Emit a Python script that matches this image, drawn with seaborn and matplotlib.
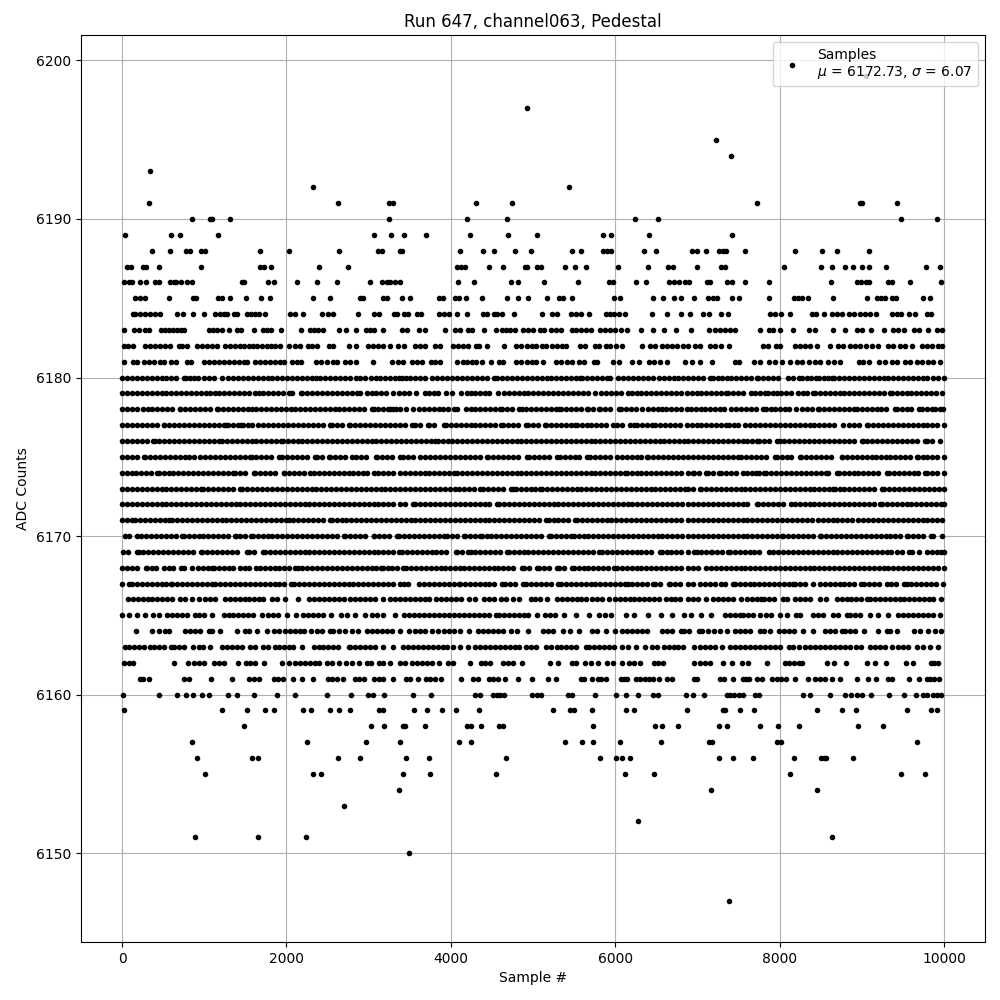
# -*- coding: utf-8 -*-
"""Pedestal samples of one ADC channel, values read off the picture row by row"""

import pandas as pd
import matplotlib
matplotlib.use('Agg')
import matplotlib.pyplot as plt
import seaborn as sns

TITLE = 'Run 647, channel063, Pedestal'
LABEL = 'Samples\n$\\mu$ = 6172.73, $\\sigma$ = 6.07'

# ── sample numbers for each ADC level ─────────────────────────────────────────
x_6199 = [9050]
x_6197 = [4930]
x_6195 = [7227]
x_6194 = [7409]
x_6193 = [336]
x_6192 = [2329, 5441]
x_6191 = [324, 2632, 3252, 3293, 4309, 4747, 7725, 8977, 9009, 9426]
x_6190 = [846, 1065, 1098, 1308, 3252, 4200, 4686, 6243, 6522, 9475, 9912]
x_6189 = [32, 591, 700, 1162, 3070, 3276, 3434, 3702, 4236, 4698, 5050, 5854, 5951, 6413, 7422]
x_6188 = [360, 579, 774, 822, 956, 1004, 1673, 2037, 2645, 3118, 3159, 3378, 3406, 4115, 4394, 4528, 4783, 4977,
          5478, 5587, 5854, 5903, 5951, 6356, 6498, 6935, 6996, 7106, 7260, 7308, 7353, 7580, 8187, 8515, 8697, 9086]
x_6187 = [57, 109, 255, 296, 445, 956, 1673, 1721, 1806, 2390, 2754, 4078, 4127, 4175, 4467, 4637, 4900, 4930, 5050, 5095,
          5393, 5514, 5648, 6036, 6401, 6644, 6705, 6996, 7284, 7341, 8053, 8503, 8637, 8799, 8892, 9009, 9086, 9293, 9779, 9949]
x_6186 = [28, 81, 125, 219, 288, 405, 454, 579, 628, 660, 721, 786, 850, 1454, 1486, 1770, 1843, 2134, 2377, 2620, 3021,
          3167, 3220, 3260, 3321, 3378, 4087, 4285, 4734, 4820, 5135, 5550, 5923, 5972, 6255, 6377, 6660, 6713, 6774,
          6855, 6895, 7118, 7150, 7361, 7422, 7580, 7871, 8624, 8940, 8993, 9050, 9094, 9325, 9374, 9584, 9961]
x_6185 = [162, 223, 283, 575, 859, 895, 1162, 1215, 1308, 1503, 1685, 1794, 2317, 2535, 2900, 2936, 3179, 3220, 3410, 3507,
          3860, 3908, 4054, 4103, 4180, 4382, 4686, 4820, 4941, 5172, 5316, 5364, 5478, 5988, 6053, 6462, 6583, 6713, 6806,
          6960, 7130, 7187, 7239, 7422, 7511, 7871, 8171, 8223, 8272, 8345, 8649, 9062, 9183, 9236, 9285, 9366, 9414, 9750, 9831]
x_6184 = [130, 162, 223, 283, 344, 405, 466, 664, 737, 867, 992, 1134, 1187, 1235, 1276, 1357, 1397, 1519, 1567, 1620, 1661, 1733,
          2045, 2106, 2207, 2430, 2511, 2564, 2867, 3066, 3123, 3309, 3349, 3430, 3479, 3584, 3633, 3860, 3916, 3973, 4074, 4192,
          4394, 4443, 4524, 4564, 4625, 4771, 5111, 5226, 5295, 5457, 5518, 5579, 5680, 5883, 5931, 5984, 6045, 6125, 6450, 6632,
          6806, 6915, 7065, 7138, 7292, 7373, 7879, 7948, 8017, 8130, 8394, 8442, 8539, 8637, 8697, 8758, 8847, 8912, 8981, 9042,
          9102, 9171, 9366, 9426, 9479, 9576, 9649, 9791, 9843]
x_6183 = [20, 150, 211, 275, 324, 478, 526, 575, 624, 672, 721, 757, 1057, 1106, 1154, 1215, 1296, 1397, 1446, 1600, 1713, 1762,
          1814, 1932, 2183, 2288, 2337, 2385, 2450, 2645, 2730, 2851, 2973, 3017, 3066, 3179, 3406, 3463, 3617, 3681, 3932, 4054,
          4111, 4204, 4253, 4406, 4552, 4617, 4670, 4726, 4779, 4880, 4941, 5002, 5083, 5131, 5214, 5275, 5336, 5470, 5526, 5579,
          5640, 5700, 5810, 5874, 5931, 5996, 6065, 6146, 6316, 6458, 6595, 6741, 6923, 7146, 7211, 7280, 7341, 7401, 7462, 7762,
          7867, 7916, 8005, 8163, 8353, 8434, 8649, 8799, 8940, 9001, 9114, 9268, 9386, 9446, 9511, 9633, 9702, 9811, 9912, 9973]
x_6182 = [28, 69, 130, 275, 344, 405, 466, 526, 579, 688, 729, 790, 911, 972, 1033, 1093, 1154, 1256, 1316, 1377, 1438, 1478,
          1539, 1592, 1640, 1701, 1762, 1810, 1863, 1916, 2037, 2098, 2167, 2268, 2313, 2377, 2523, 2572, 2766, 2847, 2997, 3058,
          3118, 3179, 3260, 3353, 3426, 3564, 3625, 3686, 3807, 3868, 4022, 4090, 4151, 4204, 4301, 4342, 4443, 4645, 4799, 4860,
          4921, 4982, 5042, 5115, 5164, 5235, 5295, 5356, 5397, 5567, 5631, 5753, 5802, 5883, 5943, 6004, 6085, 6328, 6429, 6490,
          6571, 6632, 6693, 6753, 6826, 6887, 6976, 7037, 7158, 7219, 7292, 7389, 7794, 7859, 7956, 8009, 8191, 8252, 8313, 8373,
          8454, 8616, 8717, 8778, 8859, 8920, 8981, 9050, 9123, 9195, 9325, 9386, 9466, 9527, 9608, 9730, 9791, 9860, 9932, 9981]
x_6181 = [20, 130, 182, 263, 324, 385, 458, 514, 595, 660, 790, 838, 1000, 1053, 1114, 1175, 1235, 1296, 1357, 1418, 1478, 1519,
          1620, 1681, 1742, 1802, 1863, 1924, 1976, 2065, 2126, 2179, 2361, 2418, 2491, 2572, 2620, 2713, 2774, 2847, 3058, 3280,
          3361, 3422, 3523, 3584, 3645, 3754, 3807, 3868, 4070, 4143, 4192, 4253, 4305, 4382, 4495, 4584, 4633, 4799, 4860, 4921,
          4982, 5042, 5123, 5275, 5336, 5417, 5478, 5559, 5620, 5741, 5782, 5972, 6045, 6207, 6288, 6409, 6470, 6551, 6632, 6855,
          6935, 7037, 7179, 7454, 7511, 7685, 7766, 7867, 7948, 8029, 8130, 8211, 8272, 8353, 8434, 8495, 8588, 8657, 8738, 8961,
          9021, 9090, 9212, 9285, 9366, 9426, 9527, 9588, 9669, 9730, 9811, 9872, 9953]
x_6180 = [0, 60, 120, 180, 240, 300, 360, 420, 480, 540, 600, 660, 750, 780, 825, 870, 920, 1000, 1060, 1120, 1215, 1290, 1350, 1410,
          1470, 1530, 1590, 1650, 1710, 1770, 1830, 1890, 1950, 2010, 2070, 2130, 2190, 2250, 2310, 2360, 2410, 2470, 2530, 2590,
          2650, 2710, 2770, 2850, 2900, 2960, 3030, 3090, 3140, 3200, 3260, 3320, 3370, 3410, 3460, 3500, 3560, 3620, 3690, 3770,
          3830, 3890, 3950, 4010, 4080, 4140, 4200, 4260, 4320, 4380, 4445, 4520, 4565, 4625, 4685, 4745, 4805, 4865, 4925, 4985,
          5045, 5105, 5165, 5225, 5285, 5345, 5405, 5465, 5525, 5575, 5600, 5660, 5720, 5780, 5840, 5900, 5940, 6040, 6100, 6160,
          6220, 6280, 6340, 6400, 6465, 6530, 6590, 6650, 6710, 6770, 6830, 6890, 6950, 7010, 7070, 7150, 7190, 7250, 7295, 7355,
          7415, 7475, 7535, 7595, 7655, 7720, 7740, 7800, 7860, 7920, 7985, 8105, 8165, 8235, 8270, 8330, 8380, 8440, 8475, 8535,
          8595, 8635, 8665, 8725, 8785, 8845, 8905, 8965, 9025, 9085, 9145, 9205, 9265, 9325, 9385, 9445, 9505, 9565, 9625, 9685,
          9745, 9790, 9870, 9930, 10000]
x_6179 = [0, 60, 120, 180, 240, 300, 360, 420, 480, 540, 600, 660, 720, 780, 840, 900, 960, 1025, 1065, 1125, 1185, 1245, 1305, 1365,
          1425, 1485, 1545, 1620, 1660, 1720, 1780, 1840, 1900, 1960, 2025, 2065, 2175, 2195, 2255, 2315, 2375, 2435, 2495, 2555,
          2615, 2675, 2735, 2795, 2855, 2895, 2975, 3035, 3095, 3155, 3215, 3300, 3370, 3430, 3490, 3580, 3680, 3730, 3790, 3850,
          3940, 4010, 4120, 4200, 4240, 4300, 4360, 4420, 4470, 4575, 4645, 4705, 4765, 4825, 4885, 4945, 5005, 5065, 5125, 5185,
          5245, 5305, 5365, 5425, 5485, 5545, 5605, 5665, 5755, 5830, 5890, 5950, 6010, 6070, 6160, 6200, 6260, 6320, 6380, 6440,
          6500, 6560, 6620, 6680, 6740, 6800, 6870, 6930, 6990, 7050, 7110, 7170, 7230, 7290, 7350, 7370, 7430, 7490, 7550, 7650,
          7700, 7760, 7820, 7860, 7915, 7975, 8015, 8075, 8145, 8220, 8280, 8340, 8410, 8430, 8490, 8550, 8610, 8670, 8730, 8790,
          8850, 8910, 8970, 9030, 9090, 9150, 9210, 9270, 9345, 9365, 9425, 9485, 9545, 9605, 9665, 9725, 9785, 9845, 9905, 9975]
x_6178 = [0, 60, 120, 180, 250, 310, 370, 430, 490, 550, 610, 700, 710, 770, 830, 890, 950, 1010, 1070, 1160, 1170, 1230, 1290, 1350,
          1410, 1470, 1530, 1580, 1630, 1690, 1750, 1810, 1870, 1930, 1990, 2050, 2110, 2170, 2230, 2290, 2350, 2410, 2470, 2530,
          2590, 2645, 2705, 2765, 2825, 2885, 2945, 3040, 3060, 3120, 3180, 3240, 3300, 3380, 3260, 3330, 3450, 3535, 3610, 3670,
          3730, 3790, 3860, 3900, 3970, 4040, 4080, 4180, 4240, 4300, 4360, 4420, 4480, 4540, 4595, 4625, 4685, 4745, 4830, 4870,
          4920, 4980, 5040, 5100, 5160, 5220, 5280, 5320, 5345, 5405, 5465, 5525, 5585, 5655, 5675, 5735, 5800, 5820, 5880, 5940,
          6050, 6070, 6130, 6190, 6250, 6330, 6395, 6455, 6515, 6575, 6615, 6675, 6735, 6795, 6870, 6920, 6980, 7040, 7090, 7150,
          7210, 7270, 7325, 7415, 7475, 7535, 7595, 7655, 7715, 7800, 7830, 7890, 7950, 8010, 8070, 8115, 8195, 8275, 8335, 8395,
          8465, 8480, 8540, 8600, 8660, 8720, 8780, 8840, 8900, 8940, 9000, 9060, 9120, 9180, 9240, 9300, 9400, 9425, 9485, 9545,
          9605, 9700, 9730, 9790, 9850, 9890, 9950, 9995]
x_6177 = [0, 60, 120, 180, 240, 300, 360, 420, 510, 515, 575, 635, 695, 755, 815, 875, 935, 995, 1055, 1115, 1175, 1235, 1270, 1285,
          1345, 1405, 1445, 1470, 1530, 1580, 1650, 1720, 1780, 1840, 1900, 1960, 2020, 2080, 2140, 2200, 2260, 2320, 2380, 2440,
          2525, 2550, 2610, 2670, 2755, 2775, 2835, 2895, 2955, 3015, 3075, 3135, 3195, 3255, 3315, 3380, 3440, 3530, 3560, 3620,
          3720, 3740, 3800, 3920, 3940, 4000, 4060, 4120, 4180, 4240, 4300, 4360, 4420, 4480, 4540, 4605, 4635, 4695, 4755, 4815,
          4915, 4940, 5000, 5060, 5145, 5160, 5220, 5280, 5340, 5400, 5460, 5515, 5535, 5595, 5655, 5710, 5765, 5825, 5885, 5970,
          6020, 6080, 6180, 6225, 6265, 6325, 6385, 6445, 6490, 6550, 6610, 6670, 6730, 6790, 6870, 6930, 6990, 7050, 7110, 7170,
          7230, 7290, 7350, 7390, 7450, 7500, 7585, 7645, 7705, 7765, 7825, 7885, 7945, 8005, 8065, 8125, 8185, 8245, 8305, 8365,
          8425, 8485, 8545, 8605, 8665, 8770, 8850, 8910, 8970, 9060, 9080, 9140, 9200, 9260, 9320, 9380, 9440, 9500, 9560, 9620,
          9680, 9740, 9800, 9860, 9920, 10000]
x_6176 = [0, 60, 120, 180, 240, 300, 375, 395, 455, 515, 575, 635, 695, 755, 815, 875, 935, 995, 1055, 1115, 1180, 1215, 1275, 1335,
          1395, 1455, 1515, 1575, 1635, 1695, 1755, 1815, 1875, 1930, 1955, 2015, 2075, 2135, 2195, 2255, 2315, 2375, 2435, 2495,
          2555, 2615, 2675, 2735, 2795, 2855, 2915, 2975, 3035, 3095, 3155, 3215, 3275, 3335, 3395, 3455, 3515, 3575, 3635, 3695,
          3755, 3810, 3840, 3900, 3960, 4020, 4080, 4140, 4200, 4260, 4320, 4380, 4440, 4500, 4560, 4620, 4680, 4740, 4800, 4860,
          4920, 4980, 5040, 5100, 5160, 5220, 5280, 5340, 5400, 5460, 5520, 5580, 5640, 5700, 5760, 5820, 5880, 5940, 6000, 6060,
          6120, 6180, 6240, 6300, 6360, 6420, 6480, 6540, 6600, 6660, 6720, 6780, 6840, 6890, 6950, 7010, 7070, 7130, 7190, 7250,
          7310, 7370, 7430, 7490, 7550, 7610, 7670, 7730, 7750, 7810, 7870, 7975, 8000, 8060, 8120, 8180, 8240, 8300, 8360, 8420,
          8480, 8540, 8600, 8660, 8720, 8780, 8840, 8900, 9000, 9010, 9070, 9130, 9190, 9250, 9310, 9370, 9430, 9490, 9550, 9610,
          9670, 9770, 9800, 9860, 9950]
x_6175 = [0, 60, 120, 180, 270, 280, 340, 400, 460, 520, 580, 640, 700, 760, 820, 880, 950, 1010, 1070, 1130, 1190, 1250, 1310, 1370,
          1430, 1490, 1560, 1575, 1635, 1695, 1755, 1815, 1905, 1950, 2010, 2070, 2130, 2190, 2250, 2350, 2370, 2430, 2520, 2530,
          2590, 2650, 2710, 2800, 2845, 2905, 2965, 3090, 3105, 3165, 3225, 3285, 3380, 3415, 3475, 3545, 3630, 3690, 3750, 3810,
          3870, 3930, 3990, 4050, 4110, 4170, 4230, 4290, 4350, 4445, 4455, 4515, 4575, 4635, 4695, 4755, 4815, 4930, 4950, 5010,
          5070, 5130, 5190, 5290, 5325, 5385, 5445, 5505, 5565, 5655, 5690, 5750, 5810, 5880, 5940, 6020, 6080, 6140, 6200, 6260,
          6320, 6385, 6405, 6465, 6525, 6585, 6645, 6705, 6765, 6825, 6890, 6950, 7010, 7070, 7130, 7190, 7250, 7310, 7370, 7430,
          7495, 7530, 7590, 7650, 7710, 7770, 7830, 7945, 7965, 8025, 8085, 8145, 8245, 8265, 8325, 8385, 8445, 8505, 8565, 8625,
          8755, 8765, 8825, 8885, 8945, 9005, 9065, 9130, 9170, 9230, 9290, 9350, 9410, 9470, 9530, 9590, 9670, 9680, 9740, 9800,
          9860, 9920, 10000]
x_6174 = [0, 55, 115, 175, 235, 295, 355, 425, 445, 505, 565, 625, 685, 745, 805, 865, 925, 985, 1045, 1105, 1165, 1225, 1285, 1350,
          1375, 1435, 1495, 1600, 1620, 1680, 1740, 1800, 1860, 1965, 1975, 2035, 2095, 2155, 2215, 2290, 2335, 2395, 2455, 2515,
          2575, 2635, 2695, 2755, 2815, 2875, 2930, 2975, 3060, 3120, 3180, 3240, 3300, 3380, 3440, 3500, 3560, 3620, 3680, 3740,
          3800, 3860, 3920, 3980, 4040, 4080, 4140, 4200, 4260, 4320, 4380, 4440, 4500, 4560, 4620, 4680, 4740, 4800, 4860, 4920,
          4980, 5040, 5100, 5160, 5220, 5280, 5340, 5400, 5460, 5520, 5580, 5640, 5700, 5760, 5820, 5880, 5940, 6000, 6060, 6120,
          6140, 6200, 6260, 6320, 6380, 6440, 6500, 6560, 6620, 6680, 6740, 6800, 6890, 6950, 6960, 7020, 7110, 7130, 7190, 7260,
          7285, 7345, 7405, 7465, 7560, 7600, 7660, 7710, 7750, 7815, 7840, 7900, 7960, 8020, 8080, 8140, 8200, 8260, 8320, 8380,
          8440, 8500, 8570, 8590, 8695, 8720, 8780, 8840, 8900, 8960, 9020, 9080, 9140, 9200, 9310, 9330, 9390, 9450, 9510, 9570,
          9630, 9690, 9770, 9790, 9850, 9910, 10000]
x_6173 = [0, 60, 120, 180, 240, 300, 360, 420, 480, 540, 600, 660, 720, 780, 840, 900, 965, 985, 1045, 1105, 1165, 1225, 1285, 1345,
          1440, 1465, 1525, 1585, 1645, 1705, 1765, 1825, 1885, 1945, 2005, 2065, 2125, 2185, 2245, 2305, 2365, 2425, 2485, 2545,
          2605, 2665, 2725, 2785, 2845, 2905, 2965, 3025, 3085, 3145, 3205, 3265, 3325, 3385, 3445, 3505, 3565, 3625, 3685, 3745,
          3805, 3865, 3925, 3985, 4045, 4105, 4165, 4225, 4285, 4350, 4395, 4455, 4515, 4575, 4635, 4730, 4760, 4790, 4850, 4910,
          4970, 5030, 5090, 5110, 5170, 5230, 5290, 5350, 5410, 5470, 5530, 5590, 5650, 5710, 5770, 5830, 5890, 5950, 6010, 6070,
          6130, 6190, 6250, 6310, 6370, 6430, 6490, 6550, 6610, 6670, 6730, 6790, 6850, 6890, 6950, 7030, 7045, 7105, 7165, 7225,
          7285, 7345, 7405, 7465, 7525, 7585, 7645, 7705, 7765, 7825, 7885, 7945, 8005, 8065, 8125, 8185, 8245, 8305, 8365, 8425,
          8485, 8545, 8605, 8655, 8670, 8730, 8790, 8850, 8910, 8970, 9030, 9090, 9150, 9245, 9275, 9335, 9395, 9455, 9515, 9575,
          9635, 9695, 9755, 9815, 9875, 9935, 10000]
x_6172 = [0, 60, 120, 180, 240, 300, 360, 420, 480, 540, 600, 660, 720, 780, 840, 900, 960, 1020, 1080, 1140, 1200, 1260, 1320, 1380,
          1440, 1500, 1560, 1620, 1680, 1740, 1800, 1860, 1920, 1980, 2040, 2100, 2160, 2220, 2280, 2340, 2400, 2460, 2520, 2580,
          2640, 2700, 2760, 2820, 2880, 2940, 3000, 3060, 3120, 3180, 3240, 3300, 3380, 3440, 3545, 3570, 3630, 3690, 3750, 3810,
          3870, 3930, 3990, 4050, 4110, 4170, 4230, 4290, 4350, 4410, 4470, 4565, 4590, 4650, 4710, 4770, 4830, 4890, 4950, 5010,
          5070, 5130, 5190, 5250, 5310, 5370, 5430, 5490, 5550, 5610, 5670, 5730, 5790, 5850, 5910, 5970, 6030, 6090, 6150, 6210,
          6270, 6330, 6390, 6450, 6510, 6570, 6630, 6690, 6750, 6810, 6890, 6950, 7010, 7070, 7130, 7190, 7250, 7310, 7370, 7430,
          7490, 7550, 7610, 7720, 7740, 7800, 7860, 7920, 7980, 8040, 8145, 8185, 8245, 8305, 8365, 8425, 8485, 8545, 8605, 8665,
          8725, 8785, 8845, 8905, 8965, 9025, 9085, 9145, 9220, 9245, 9305, 9365, 9425, 9485, 9545, 9605, 9665, 9725, 9785, 9845,
          9905, 9965, 10000]
x_6171 = [0, 60, 120, 160, 220, 280, 340, 400, 460, 525, 565, 610, 670, 730, 790, 850, 910, 970, 1030, 1090, 1150, 1210, 1270, 1330,
          1390, 1450, 1510, 1570, 1630, 1690, 1750, 1810, 1870, 1930, 2000, 2025, 2085, 2145, 2205, 2265, 2325, 2385, 2445, 2530,
          2550, 2610, 2670, 2730, 2790, 2850, 2910, 2970, 3030, 3090, 3150, 3210, 3270, 3330, 3390, 3450, 3510, 3570, 3630, 3690,
          3750, 3810, 3870, 3930, 3990, 4050, 4110, 4170, 4230, 4290, 4350, 4410, 4470, 4530, 4590, 4650, 4710, 4770, 4830, 4890,
          4950, 5010, 5070, 5160, 5190, 5250, 5310, 5370, 5430, 5505, 5535, 5595, 5655, 5715, 5775, 5835, 5895, 5955, 6015, 6075,
          6135, 6195, 6255, 6315, 6375, 6435, 6495, 6555, 6615, 6675, 6735, 6795, 6890, 6950, 7010, 7070, 7130, 7190, 7250, 7310,
          7370, 7430, 7490, 7550, 7610, 7670, 7730, 7790, 7850, 7910, 7970, 8030, 8090, 8150, 8210, 8270, 8330, 8390, 8465, 8525,
          8585, 8645, 8705, 8765, 8825, 8885, 8960, 9020, 9080, 9140, 9200, 9260, 9320, 9380, 9440, 9500, 9560, 9620, 9680, 9740,
          9800, 9860, 9920, 9975]
x_6170 = [30, 90, 180, 230, 290, 350, 410, 470, 530, 590, 650, 730, 750, 810, 870, 930, 990, 1050, 1110, 1170, 1230, 1290, 1370, 1380,
          1440, 1500, 1565, 1590, 1650, 1710, 1770, 1830, 1890, 1950, 2010, 2070, 2130, 2190, 2250, 2310, 2370, 2430, 2490, 2550,
          2610, 2695, 2715, 2775, 2835, 2895, 2955, 3060, 3065, 3125, 3185, 3245, 3340, 3375, 3435, 3495, 3555, 3615, 3675, 3735,
          3795, 3855, 3920, 3950, 4010, 4070, 4160, 4175, 4235, 4295, 4350, 4375, 4435, 4495, 4555, 4615, 4675, 4735, 4795, 4855,
          4915, 4975, 5035, 5095, 5190, 5225, 5285, 5345, 5405, 5465, 5495, 5555, 5615, 5675, 5735, 5795, 5855, 5915, 5975, 6035,
          6095, 6155, 6215, 6275, 6335, 6395, 6455, 6515, 6575, 6635, 6695, 6755, 6815, 6890, 6950, 7010, 7070, 7130, 7190, 7250,
          7310, 7370, 7430, 7490, 7550, 7610, 7670, 7730, 7790, 7850, 7910, 7970, 8025, 8045, 8105, 8165, 8225, 8285, 8345, 8405,
          8490, 8510, 8570, 8630, 8690, 8750, 8810, 8870, 8930, 8990, 9050, 9110, 9170, 9230, 9290, 9350, 9410, 9470, 9545, 9565,
          9625, 9685, 9745, 9840, 9870, 9980]
x_6169 = [15, 75, 180, 200, 260, 320, 380, 440, 500, 560, 620, 680, 740, 800, 860, 960, 975, 1035, 1095, 1155, 1215, 1275, 1335, 1395,
          1520, 1540, 1600, 1720, 1740, 1800, 1860, 1920, 1980, 2040, 2100, 2160, 2220, 2280, 2340, 2400, 2460, 2520, 2580, 2640,
          2700, 2760, 2820, 2880, 2940, 3000, 3060, 3120, 3180, 3240, 3300, 3375, 3405, 3465, 3525, 3585, 3645, 3705, 3765, 3825,
          3885, 3945, 4060, 4080, 4140, 4215, 4240, 4300, 4360, 4420, 4480, 4540, 4600, 4680, 4705, 4765, 4825, 4885, 4945, 5005,
          5065, 5125, 5185, 5245, 5305, 5365, 5425, 5485, 5545, 5605, 5665, 5725, 5800, 5840, 5900, 5960, 6020, 6080, 6140, 6200,
          6260, 6320, 6380, 6440, 6545, 6565, 6625, 6685, 6745, 6805, 6890, 6960, 6990, 7050, 7110, 7165, 7180, 7240, 7300, 7375,
          7395, 7455, 7515, 7575, 7635, 7695, 7755, 7870, 7925, 7985, 8045, 8105, 8165, 8225, 8285, 8345, 8405, 8465, 8525, 8585,
          8645, 8705, 8765, 8825, 8885, 8945, 9005, 9065, 9125, 9185, 9245, 9305, 9355, 9435, 9495, 9575, 9615, 9700, 9790, 9850,
          9910, 9970, 10000]
x_6168 = [0, 60, 120, 180, 285, 305, 360, 415, 505, 565, 625, 720, 755, 855, 920, 980, 1040, 1095, 1115, 1175, 1235, 1295, 1350, 1430,
          1490, 1550, 1630, 1675, 1735, 1795, 1855, 1915, 1975, 2035, 2105, 2135, 2195, 2255, 2315, 2375, 2435, 2495, 2555, 2615,
          2675, 2735, 2795, 2855, 2915, 2975, 3035, 3095, 3145, 3170, 3230, 3290, 3350, 3415, 3455, 3515, 3575, 3635, 3695, 3755,
          3815, 3875, 3935, 3995, 4055, 4110, 4160, 4220, 4280, 4340, 4400, 4460, 4520, 4580, 4640, 4700, 4760, 4870, 4890, 4950,
          5050, 5070, 5130, 5190, 5295, 5315, 5375, 5475, 5495, 5555, 5615, 5675, 5735, 5795, 5855, 5915, 5990, 6020, 6080, 6140,
          6200, 6260, 6320, 6380, 6440, 6500, 6560, 6620, 6680, 6740, 6800, 6890, 6950, 7010, 7110, 7165, 7225, 7285, 7345, 7405,
          7465, 7525, 7585, 7645, 7705, 7765, 7825, 7885, 7945, 8005, 8065, 8125, 8185, 8245, 8305, 8365, 8425, 8485, 8545, 8605,
          8665, 8725, 8785, 8845, 8905, 8965, 9025, 9085, 9145, 9205, 9265, 9325, 9385, 9445, 9505, 9565, 9625, 9685, 9745, 9805,
          9865, 9925, 10000]
x_6167 = [0, 80, 120, 180, 240, 300, 360, 420, 480, 540, 595, 610, 670, 730, 790, 850, 910, 970, 1030, 1095, 1135, 1195, 1255, 1315,
          1375, 1435, 1495, 1555, 1615, 1675, 1735, 1795, 1855, 1915, 1975, 2060, 2095, 2155, 2215, 2275, 2335, 2395, 2455, 2515,
          2575, 2635, 2695, 2755, 2815, 2875, 2935, 2995, 3055, 3115, 3175, 3235, 3295, 3380, 3425, 3485, 3615, 3675, 3735, 3795,
          3855, 3915, 3975, 4035, 4100, 4110, 4170, 4230, 4290, 4350, 4410, 4470, 4530, 4625, 4665, 4725, 4785, 4875, 4915, 4975,
          5035, 5095, 5155, 5215, 5310, 5340, 5400, 5460, 5520, 5580, 5640, 5700, 5760, 5820, 5880, 5940, 6000, 6060, 6120, 6150,
          6210, 6270, 6330, 6390, 6465, 6485, 6545, 6650, 6670, 6730, 6790, 6890, 6950, 7030, 7090, 7150, 7220, 7285, 7335, 7435,
          7455, 7515, 7575, 7635, 7695, 7755, 7815, 7875, 7935, 7995, 8055, 8115, 8165, 8185, 8245, 8305, 8410, 8490, 8550, 8610,
          8670, 8730, 8790, 8850, 8910, 8990, 9030, 9090, 9150, 9210, 9305, 9355, 9415, 9520, 9545, 9605, 9665, 9725, 9785, 9845,
          9905, 9995]
x_6166 = [70, 130, 190, 250, 310, 370, 430, 490, 550, 605, 710, 770, 850, 930, 1010, 1070, 1135, 1255, 1315, 1375, 1435, 1500, 1540,
          1600, 1660, 1720, 1820, 1885, 1985, 2135, 2280, 2340, 2400, 2460, 2520, 2580, 2640, 2700, 2775, 2835, 2895, 2955, 3015,
          3075, 3170, 3260, 3320, 3380, 3440, 3500, 3560, 3620, 3680, 3740, 3820, 3880, 3940, 4000, 4060, 4120, 4220, 4300, 4405,
          4465, 4525, 4605, 4675, 4755, 4830, 4970, 5030, 5090, 5170, 5290, 5350, 5410, 5470, 5530, 5590, 5650, 5715, 5780, 5840,
          5925, 5995, 6055, 6115, 6175, 6235, 6295, 6355, 6415, 6475, 6535, 6620, 6680, 6730, 6790, 6890, 6950, 7010, 7100, 7195,
          7255, 7315, 7375, 7435, 7535, 7600, 7660, 7720, 7780, 7815, 7875, 7935, 8045, 8085, 8190, 8250, 8310, 8370, 8490, 8570,
          8695, 8755, 8815, 8875, 8935, 8995, 9060, 9100, 9160, 9220, 9280, 9340, 9400, 9460, 9520, 9580, 9640, 9700, 9760, 9815,
          9870, 9965]
x_6165 = [0, 80, 180, 275, 375, 455, 545, 605, 665, 725, 785, 890, 940, 1000, 1095, 1235, 1295, 1355, 1415, 1475, 1535, 1595, 1700,
          1780, 1840, 1900, 2005, 2115, 2205, 2265, 2325, 2385, 2450, 2545, 2660, 2740, 2835, 2955, 3040, 3100, 3180, 3320, 3435,
          3495, 3555, 3615, 3675, 3735, 3795, 3855, 3920, 3980, 4040, 4100, 4160, 4220, 4280, 4340, 4400, 4460, 4545, 4585, 4645,
          4705, 4765, 4825, 4885, 4940, 5050, 5150, 5210, 5270, 5375, 5525, 5680, 5800, 5880, 5950, 6130, 6235, 6395, 6555, 6695,
          6840, 6920, 7045, 7170, 7335, 7395, 7455, 7520, 7560, 7620, 7680, 7760, 7840, 7900, 8005, 8095, 8195, 8250, 8410, 8470,
          8530, 8655, 8715, 8815, 8855, 8915, 8975, 9100, 9200, 9325, 9445, 9505, 9565, 9625, 9685, 9745, 9805, 9865, 9950]
x_6164 = [175, 365, 445, 525, 565, 770, 830, 890, 950, 1055, 1095, 1195, 1395, 1500, 1540, 1640, 1760, 1845, 1905, 1985, 2045, 2105,
          2165, 2215, 2295, 2370, 2430, 2530, 2570, 2640, 2715, 2795, 2875, 2975, 3035, 3100, 3160, 3220, 3280, 3380, 3495, 3565,
          3625, 3685, 3765, 3840, 3920, 3980, 4040, 4110, 4225, 4335, 4395, 4455, 4515, 4575, 4635, 4735, 4800, 4940, 5120, 5180,
          5240, 5360, 5455, 5565, 5720, 5780, 5885, 6000, 6085, 6145, 6205, 6265, 6325, 6390, 6570, 6630, 6690, 6795, 6835, 6895,
          7015, 7055, 7135, 7200, 7280, 7360, 7460, 7520, 7580, 7640, 7765, 7805, 7885, 7995, 8055, 8115, 8175, 8290, 8405, 8555,
          8615, 8675, 8760, 8800, 8860, 8920, 9025, 9200, 9305, 9345, 9425, 9630, 9710, 9810, 9890, 9965]
x_6163 = [30, 90, 150, 210, 270, 345, 385, 445, 505, 595, 635, 695, 755, 860, 930, 990, 1075, 1215, 1275, 1335, 1395, 1455, 1560, 1620,
          1720, 1780, 1860, 1905, 1965, 2025, 2085, 2185, 2330, 2390, 2450, 2510, 2570, 2630, 2755, 2775, 2835, 2895, 2955, 3015,
          3075, 3180, 3300, 3420, 3480, 3540, 3600, 3660, 3720, 3780, 3840, 3910, 3950, 4030, 4110, 4210, 4295, 4355, 4415, 4475,
          4535, 4595, 4655, 4715, 4775, 4835, 4920, 4980, 5040, 5155, 5215, 5295, 5345, 5405, 5465, 5525, 5640, 5680, 5740, 5800,
          5860, 5920, 5980, 6085, 6155, 6255, 6360, 6450, 6510, 6590, 6650, 6710, 6770, 6830, 6955, 7035, 7095, 7155, 7215, 7300,
          7400, 7460, 7520, 7580, 7640, 7700, 7760, 7820, 7880, 7940, 8000, 8110, 8160, 8240, 8315, 8375, 8435, 8495, 8555, 8615,
          8675, 8735, 8795, 8855, 8925, 8995, 9105, 9165, 9225, 9285, 9365, 9445, 9505, 9565, 9670, 9750, 9830, 9925]
x_6162 = [20, 81, 134, 628, 798, 871, 932, 992, 1114, 1175, 1235, 1413, 1507, 1559, 1620, 1721, 1944, 2037, 2106, 2167, 2228, 2288,
          2349, 2402, 2491, 2552, 2645, 2726, 2795, 2888, 2977, 3025, 3131, 3179, 3264, 3382, 3442, 3523, 3584, 3645, 3714, 3775,
          3860, 3969, 4030, 4236, 4366, 4414, 4475, 4637, 4698, 4759, 4872, 5210, 5307, 5478, 5526, 5631, 5700, 5793, 5903, 5972,
          6077, 6174, 6235, 6308, 6470, 6522, 6579, 6956, 7037, 7098, 7158, 7312, 7422, 7543, 7616, 7847, 8061, 8110, 8170, 8231,
          8272, 8580, 8657, 8807, 9062, 9159, 9293, 9544, 9625, 9839, 9884, 9924]
x_6161 = [215, 255, 328, 749, 814, 1077, 1332, 1547, 1600, 1660, 1851, 1895, 1952, 2074, 2195, 2317, 2511, 2560, 2620, 2685, 2835,
          2888, 2944, 3066, 3123, 3179, 3292, 3454, 3503, 3604, 3697, 3746, 3807, 3876, 4127, 4273, 4333, 4459, 4508, 4577, 4662,
          4820, 4990, 5182, 5275, 5579, 5620, 5721, 5790, 5830, 5883, 6065, 6105, 6146, 6255, 6308, 6360, 6409, 6462, 6539, 6632,
          6693, 6956, 6996, 7280, 7328, 7438, 7551, 7592, 7632, 7725, 7786, 7908, 7968, 8021, 8078, 8187, 8345, 8434, 8487, 8556,
          8637, 8734, 8940, 9074, 9171, 9325, 9366, 9572, 9694, 9791, 9831, 9880, 9937]
x_6160 = [8, 445, 664, 774, 859, 968, 1053, 1284, 1393, 1600, 1879, 2098, 2499, 2790, 2997, 3058, 3191, 3544, 3762, 4297, 4358, 4516,
          4556, 4597, 4645, 4982, 5054, 5103, 5425, 5478, 5757, 6012, 6134, 6279, 6462, 6522, 6863, 6948, 7082, 7361, 7401, 7442,
          7503, 7551, 7697, 7746, 8284, 8369, 8612, 8794, 8867, 8940, 9001, 9110, 9329, 9511, 9657, 9750, 9791, 9864, 9912, 9965]
x_6159 = [20, 1211, 1515, 1733, 1843, 2207, 2304, 2535, 2645, 2778, 3131, 3171, 3556, 3714, 3896, 4066, 4346, 5247, 5453, 5494, 5721,
          6134, 6227, 6875, 7308, 7340, 7520, 7689, 8454, 8758, 8928, 9548, 9843, 9916]
x_6158 = [1478, 3033, 3191, 3414, 3446, 3689, 4200, 4249, 4370, 4585, 4641, 5733, 6486, 6575, 6766, 7264, 7361, 7762, 7980, 8235, 8952, 9256]
x_6157 = [846, 2244, 2973, 3386, 4103, 4249, 5393, 5599, 5733, 6061, 6559, 7146, 7179, 7964, 8021, 9669]
x_6156 = [907, 1575, 1648, 2632, 2900, 3459, 3738, 4674, 5818, 6012, 6085, 6186, 7264, 7434, 7677, 8175, 8503, 8535, 8564, 8892]
x_6155 = [1004, 2329, 2426, 3422, 3750, 4552, 6122, 6474, 8126, 9475, 9767]
x_6154 = [3374, 7166, 8455]
x_6153 = [2705]
x_6152 = [6279]
x_6151 = [883, 1648, 2232, 8637]
x_6150 = [3495]
x_6147 = [7385]

levels = [6199, 6197, 6195, 6194, 6193, 6192, 6191, 6190, 6189, 6188, 6187, 6186, 6185, 6184, 6183, 6182, 6181, 6180,
          6179, 6178, 6177, 6176, 6175, 6174, 6173, 6172, 6171, 6170, 6169, 6168, 6167, 6166, 6165, 6164, 6163, 6162,
          6161, 6160, 6159, 6158, 6157, 6156, 6155, 6154, 6153, 6152, 6151, 6150, 6147]
samples = [x_6199, x_6197, x_6195, x_6194, x_6193, x_6192, x_6191, x_6190, x_6189, x_6188, x_6187, x_6186, x_6185,
           x_6184, x_6183, x_6182, x_6181, x_6180, x_6179, x_6178, x_6177, x_6176, x_6175, x_6174, x_6173, x_6172,
           x_6171, x_6170, x_6169, x_6168, x_6167, x_6166, x_6165, x_6164, x_6163, x_6162, x_6161, x_6160, x_6159,
           x_6158, x_6157, x_6156, x_6155, x_6154, x_6153, x_6152, x_6151, x_6150, x_6147]

df = pd.DataFrame([(s, lev) for lev, xs in zip(levels, samples) for s in xs], columns=['sample', 'adc'])

fig, ax = plt.subplots(figsize=(10, 10), dpi=100)
sns.lineplot(data=df, x='sample', y='adc', estimator=None, sort=False, ax=ax,
             linestyle='', marker='.', markersize=6, color='k',
             markeredgecolor='k', markeredgewidth=1, label=LABEL)
ax.set_xlabel('Sample #')
ax.set_ylabel('ADC Counts')
ax.set_title(TITLE)
ax.grid(True)
ax.legend(loc='upper right')
fig.subplots_adjust(left=0.081, right=0.985, top=0.965, bottom=0.058)
plt.savefig('out.png')
